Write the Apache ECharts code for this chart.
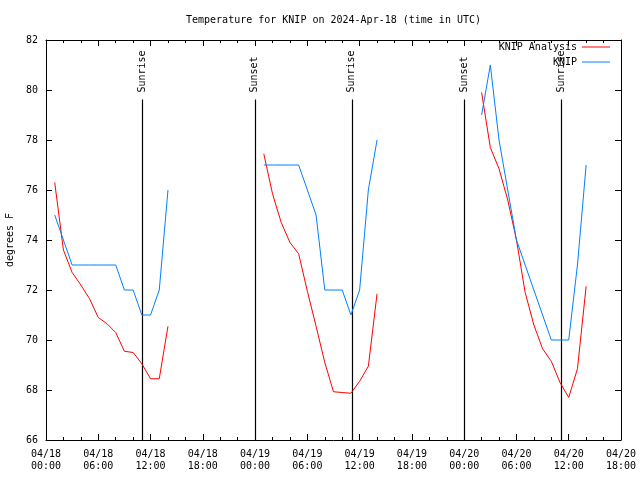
<!DOCTYPE html>
<html><head><meta charset="utf-8">
<script src="https://cdn.jsdelivr.net/npm/echarts@6/dist/echarts.min.js"></script>
<style>html,body{margin:0;padding:0;background:#fff}#c{width:640px;height:480px}</style>
</head><body><div id="c"></div>
<script>
const titleText = 'Temperature for KNIP on 2024-Apr-18 (time in UTC)';
// hours after 2024-04-18 00:00 UTC
const hours = [1,2,3,4,5,6,7,8,9,10,11,12,13,14,
  25,26,27,28,29,30,31,32,33,34,35,36,37,38,
  50,51,52,53,54,55,56,57,58,59,60,61,62];
const analysisTemps = [76.3,73.6,72.7,72.2,71.65,70.9,70.65,70.3,69.55,69.5,69.05,68.45,68.45,70.55,
  77.45,75.85,74.7,73.9,73.45,71.95,70.55,69.1,67.93,67.9,67.87,68.35,68.95,71.85,
  79.9,77.7,76.85,75.6,74.0,71.9,70.6,69.65,69.15,68.3,67.7,68.85,72.15];
const observedTemps = [75,74,73,73,73,73,73,73,72,72,71,71,72,76,
  77,77,77,77,77,76,75,72,72,72,71,72,76,78,
  79,81,78,76,74,73,72,71,70,70,70,73,77];
const eventNames = ['Sunrise','Sunset','Sunrise','Sunset','Sunrise'];
const eventHours = [11.07, 23.95, 35.1, 47.99, 59.14];
const xTickLabels = ['04/18\n00:00','04/18\n06:00','04/18\n12:00','04/18\n18:00',
  '04/19\n00:00','04/19\n06:00','04/19\n12:00','04/19\n18:00',
  '04/20\n00:00','04/20\n06:00','04/20\n12:00','04/20\n18:00'];
const yMin = 66, yMax = 82, yStep = 2;
const xMin = 0, xMax = 66, xStep = 6;
const eventTopTemp = 79.62;

const FONT = 'DejaVu Sans Mono';

function toSeries(vals) {
  const out = [];
  for (let i = 0; i < hours.length; i++) {
    if (i > 0 && hours[i] - hours[i - 1] > 1) out.push([(hours[i] + hours[i - 1]) / 2, null]);
    out.push([hours[i], vals[i]]);
  }
  return out;
}

const chart = echarts.init(document.getElementById('c'), null, {renderer: 'canvas'});
const xCommon = {
  type: 'value', min: xMin, max: xMax, interval: xStep,
  axisLine: {show: true, onZero: false, lineStyle: {color: '#000', width: 1}},
  axisTick: {show: true, inside: true, length: 6, lineStyle: {color: '#000'}},
  minorTick: {show: true, splitNumber: 3, length: 3, lineStyle: {color: '#000'}},
  splitLine: {show: false}, minorSplitLine: {show: false}
};
const yCommon = {
  type: 'value', min: yMin, max: yMax, interval: yStep,
  axisLine: {show: true, onZero: false, lineStyle: {color: '#000', width: 1}},
  axisTick: {show: true, inside: true, length: 6, lineStyle: {color: '#000'}},
  splitLine: {show: false}
};
chart.setOption({
  animation: false,
  backgroundColor: '#fff',
  title: {text: titleText, left: 181, top: 10,
    textStyle: {fontFamily: FONT, fontSize: 10, fontWeight: 'normal', color: '#000'}},
  grid: {left: 46, right: 19, top: 40, bottom: 40, containLabel: false, outerBoundsMode: 'none'},
  legend: {
    data: ['KNIP Analysis', 'KNIP'], orient: 'vertical', right: 25, top: 36, align: 'right',
    icon: 'rect', itemWidth: 28, itemHeight: 1, itemGap: 3,
    textStyle: {fontFamily: FONT, fontSize: 10, color: '#000', lineHeight: 12}
  },
  xAxis: [
    Object.assign({}, xCommon, {position: 'bottom',
      axisLabel: {color: '#000', fontFamily: FONT, fontSize: 10, margin: 8, lineHeight: 12,
        formatter: v => xTickLabels[Math.round((v - xMin) / xStep)] || ''}}),
    Object.assign({}, xCommon, {position: 'top', axisLabel: {show: false}})
  ],
  yAxis: [
    Object.assign({}, yCommon, {position: 'left',
      axisLabel: {color: '#000', fontFamily: FONT, fontSize: 10, margin: 8},
      name: 'degrees F', nameLocation: 'middle', nameGap: 30, nameRotate: 90,
      nameTextStyle: {fontFamily: FONT, fontSize: 10, color: '#000'}}),
    Object.assign({}, yCommon, {position: 'right', axisLabel: {show: false}})
  ],
  series: [
    {
      type: 'custom', xAxisIndex: 0, yAxisIndex: 0, silent: true, z: 1,
      data: eventHours.map(h => [h, yMin]),
      encode: {x: 0, y: 1},
      renderItem: function (params, api) {
        const h = api.value(0);
        const top = api.coord([h, eventTopTemp]);
        const bot = api.coord([h, yMin]);
        const x = Math.round(top[0]) + 0.5;
        return {
          type: 'group',
          children: [
            {type: 'line', shape: {x1: x, y1: top[1], x2: x, y2: bot[1]},
              style: {stroke: '#000', lineWidth: 1.2}},
            {type: 'text', x: top[0], y: top[1] - 7, rotation: Math.PI / 2,
              style: {text: eventNames[params.dataIndex], fill: '#000',
                font: '10px "' + FONT + '"', align: 'left', verticalAlign: 'middle'}}
          ]
        };
      }
    },
    {
      name: 'KNIP Analysis', type: 'line', xAxisIndex: 0, yAxisIndex: 0, z: 3,
      data: toSeries(analysisTemps), symbol: 'none', connectNulls: false,
      color: '#ff0000', lineStyle: {color: '#ff0000', width: 1}
    },
    {
      name: 'KNIP', type: 'line', xAxisIndex: 0, yAxisIndex: 0, z: 4,
      data: toSeries(observedTemps), symbol: 'none', connectNulls: false,
      color: '#0080ff', lineStyle: {color: '#0080ff', width: 1}
    }
  ]
});
</script>
</body></html>
